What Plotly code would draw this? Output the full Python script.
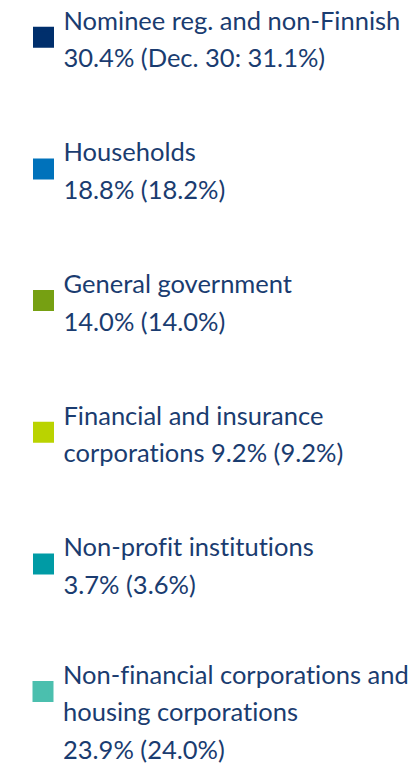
import plotly.graph_objects as go

# ---- data -------------------------------------------------------------
categories = [
    "Nominee reg. and non-Finnish",
    "Households",
    "General government",
    "Financial and insurance corporations",
    "Non-profit institutions",
    "Non-financial corporations and housing corporations",
]
share_now = [30.4, 18.8, 14.0, 9.2, 3.7, 23.9]
share_prev = [31.1, 18.2, 14.0, 9.2, 3.6, 24.0]
prev_date = "Dec. 30"
colors = ["#002f6c", "#0072bb", "#76a012", "#bad300", "#009ba5", "#4bbfae"]

# how each category label wraps in the legend
label_lines = [
    ["Nominee reg. and non-Finnish"],
    ["Households"],
    ["General government"],
    ["Financial and insurance", "corporations"],
    ["Non-profit institutions"],
    ["Non-financial corporations and", "housing corporations"],
]
value_inline = [False, False, False, True, False, False]

# ---- styling ----------------------------------------------------------
TEXT_COLOR = "#1a3c70"
GLYPH_SIZE = 25.5    # visible text size
LINE_FONT = 29       # legend font size -> drives line spacing
LINE_FONT2 = 28.7    # slightly tighter spacing for the three-line entry


def span(t):
    return (f"<span style='font-size:{GLYPH_SIZE}px;"
            f"font-variant-ligatures:none'>{t}</span>")


fig = go.Figure()
for i, cat in enumerate(categories):
    prefix = f"{prev_date}: " if i == 0 else ""
    value_txt = f"{share_now[i]:.1f}% ({prefix}{share_prev[i]:.1f}%)"
    lines = list(label_lines[i])
    if value_inline[i]:
        lines[-1] = lines[-1] + " " + value_txt
    else:
        lines.append(value_txt)
    if len(lines) > 2:
        # leading blank line keeps the swatch beside the first two lines
        lines = ["\u00a0"] + lines
    name = "<br>".join(span(l) for l in lines)
    fig.add_trace(
        go.Scatter(
            x=[None], y=[None], mode="markers", name=name,
            marker=dict(symbol="square", size=16, color=colors[i],
                        line=dict(color=colors[i], width=5)),
            legendgroup=f"g{i}",
            legend="legend" if i < 5 else "legend2",
            hoverinfo="skip",
        )
    )

W = 414
H = 800          # a little taller than the window so the last legend fits
TOP_SHIFT = 7.4  # page offset so the first legend row sits as in the reference
common = dict(
    xanchor="left", yanchor="top",
    bgcolor="rgba(0,0,0,0)", borderwidth=0,
    tracegroupgap=53.3, itemclick=False, itemdoubleclick=False,
    maxheight=2000,
)
fig.update_layout(
    width=W, height=H,
    margin=dict(l=0, r=0, t=0, b=0),
    paper_bgcolor="white", plot_bgcolor="white",
    xaxis=dict(visible=False), yaxis=dict(visible=False),
    showlegend=True,
    legend=dict(x=23.5 / W, y=1,
                font=dict(family="Lato", size=LINE_FONT, color=TEXT_COLOR),
                **common),
    legend2=dict(x=23.5 / W, y=1 - 617.5 / H,
                 font=dict(family="Lato", size=LINE_FONT2, color=TEXT_COLOR),
                 **common),
)

post = (
    "document.documentElement.style.overflow='hidden';"
    "document.body.style.margin='0';"
    "document.body.style.overflow='hidden';"
    "var d=document.getElementsByClassName('plotly-graph-div')[0];"
    f"d.style.marginTop='-{TOP_SHIFT}px';"
)
fig.write_html("out.html", config={"displayModeBar": False}, post_script=post)
